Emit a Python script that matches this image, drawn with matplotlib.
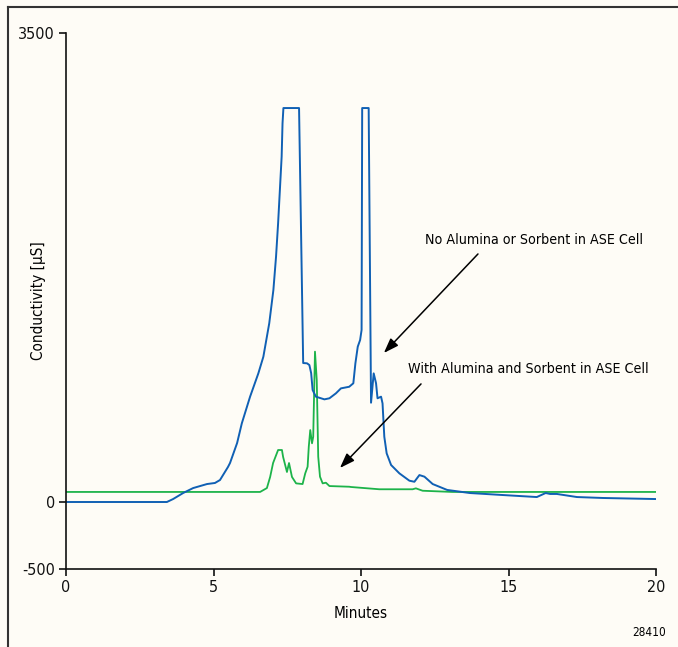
import matplotlib
matplotlib.use("Agg")
import matplotlib.pyplot as plt
from matplotlib.lines import Line2D

# ---- data ----
blue_t = [0.0, 3.42, 3.63, 3.97, 4.31, 4.78, 5.05, 5.22, 5.49, 5.56, 5.80,
          5.96, 6.24, 6.52, 6.69, 6.89, 7.03, 7.12, 7.19, 7.25, 7.31, 7.34,
          7.37, 7.90, 8.04, 8.17, 8.25, 8.31, 8.36, 8.47, 8.76, 8.93, 9.15,
          9.32, 9.60, 9.74, 9.81, 9.89, 9.97, 10.02, 10.04, 10.26, 10.34,
          10.43, 10.51, 10.56, 10.68, 10.73, 10.79, 10.87, 11.02, 11.30,
          11.64, 11.81, 11.98, 12.15, 12.43, 12.92, 13.69, 14.81, 15.96,
          16.26, 16.41, 16.64, 17.32, 18.20, 20.0]
blue_v = [0, 0, 22, 67, 104, 134, 142, 164, 261, 291, 440,
          587, 786, 960, 1084, 1334, 1582, 1831, 2080, 2328, 2577, 2826,
          2940, 2940, 1037, 1035, 1022, 962, 836, 786, 766, 774, 811,
          848, 860, 886, 1035, 1159, 1209, 1284, 2940, 2940, 741,
          960, 886, 774, 786, 736, 487, 363, 276, 214,
          159, 151, 201, 189, 134, 90, 67, 52, 37,
          67, 60, 60, 37, 30, 22]

green_t = [0.0, 6.58, 6.81, 6.92, 7.02, 7.19, 7.32, 7.36, 7.49, 7.56, 7.66,
           7.80, 8.02, 8.11, 8.19, 8.23, 8.28, 8.34, 8.38, 8.44, 8.50, 8.55,
           8.61, 8.70, 8.81, 8.93, 9.60, 9.66, 10.62, 11.75, 11.86, 12.09,
           13.10, 20.0]
green_v = [75, 75, 104, 187, 291, 388, 388, 336, 224, 291, 187,
           139, 134, 214, 263, 413, 537, 438, 487, 1122, 910, 338,
           189, 139, 144, 119, 114, 112, 95, 95, 102, 84,
           75, 75]

x_ticks = [0, 5, 10, 15, 20]
y_ticks = [-500, 0, 3500]
label_blue = "No Alumina or Sorbent in ASE Cell"
label_green = "With Alumina and Sorbent in ASE Cell"

plt.rcParams['font.family'] = ['DejaVu Sans']
plt.rcParams['font.stretch'] = 'condensed'
plt.rcParams['axes.unicode_minus'] = False

BG = '#fefcf6'
fig = plt.figure(figsize=(6.78, 6.47), dpi=100, facecolor=BG)
ax = fig.add_axes([66/678, 1-569/647, 590/678, 536/647], facecolor=BG)

ax.plot(green_t, green_v, color='#1db34a', lw=1.3)
ax.plot(blue_t, blue_v, color='#1060b4', lw=1.4)

ax.set_xlim(0, 20)
ax.set_ylim(-500, 3500)
ax.set_xticks(x_ticks)
ax.set_yticks(y_ticks)
for s in ['top', 'right']:
    ax.spines[s].set_visible(False)
for s in ['left', 'bottom']:
    ax.spines[s].set_linewidth(1.2)
    ax.spines[s].set_color('#111111')
ax.tick_params(direction='out', length=5, width=1.2, colors='#111111',
               labelsize=11.5, pad=3)
ax.set_xlabel('Minutes', fontsize=11, labelpad=8)
ax.set_ylabel('Conductivity [µS]', fontsize=11)
ax.yaxis.set_label_coords(-0.034, 0.5)

ax.annotate('', xy=(10.71, 1097), xytext=(14.03, 1866),
            arrowprops=dict(arrowstyle='-|>,head_length=0.9,head_width=0.32',
                            color='black', lw=1.1))
ax.annotate('', xy=(9.22, 239), xytext=(12.10, 896),
            arrowprops=dict(arrowstyle='-|>,head_length=0.9,head_width=0.32',
                            color='black', lw=1.1))
ax.text(12.17, 1955, label_blue, fontsize=10.2, ha='left', va='center')
ax.text(11.59, 993, label_green, fontsize=10.2, ha='left', va='center')

fig.text(666/678, 1-633/647, '28410', fontsize=8.5, ha='right', va='center')

# document frame lines (top and left)
fig.add_artist(Line2D([7.5/678, 1], [1-6.5/647, 1-6.5/647],
                      transform=fig.transFigure, color='#333333', lw=1.5))
fig.add_artist(Line2D([7.5/678, 7.5/678], [0, 1-6.5/647],
                      transform=fig.transFigure, color='#333333', lw=1.5))

fig.savefig('out.png', dpi=100, facecolor=BG)
